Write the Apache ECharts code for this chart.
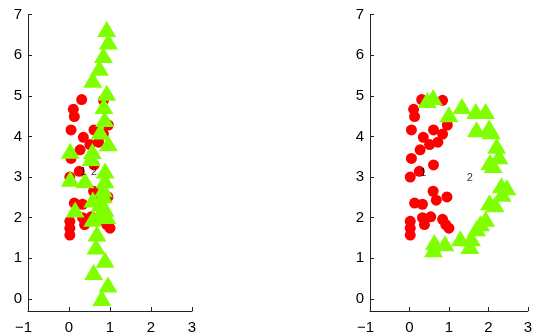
<!DOCTYPE html>
<html><head><meta charset="utf-8">
<script src="https://cdn.jsdelivr.net/npm/echarts@6/dist/echarts.min.js"></script>
<style>html,body{margin:0;padding:0;background:#fff}#c{width:535px;height:335px}</style>
</head><body><div id="c"></div>
<script>
// Red circles (same in both panels)
const redX = [0.31,0.84,0.105,0.13,0.05,0.35,0.61,0.84,0.96,0.72,0.51,0.27,0.05,0.61,0.25,0.02,0.6,0.68,0.95,0.13,0.33,0.02,0.02,0.02,0.33,0.38,0.54,0.84,0.92,1.0];
const redY = [4.91,4.89,4.67,4.49,4.16,3.98,4.16,4.06,4.28,3.86,3.8,3.67,3.46,3.3,3.14,3.0,2.65,2.43,2.51,2.36,2.33,1.91,1.74,1.57,2.0,1.83,2.02,1.96,1.83,1.74];
// Green triangles, left panel
const leftGreenX = [0.92,0.96,0.84,0.74,0.58,0.92,0.85,0.87,0.76,0.96,0.03,0.57,0.54,0.88,0.03,0.39,0.88,0.84,0.84,0.58,0.15,0.76,0.88,0.76,0.92,0.58,0.68,0.66,0.88,0.6,0.95,0.8];
const leftGreenY = [6.65,6.34,6.01,5.69,5.4,5.08,4.75,4.43,4.12,3.83,3.65,3.64,3.47,3.16,2.96,2.92,2.92,2.7,2.55,2.45,2.2,2.35,2.22,2.1,2.04,1.97,1.61,1.29,0.96,0.66,0.35,0.02];
// Green triangles, right panel
const rightGreenX = [0.6,0.45,1.0,1.33,1.68,1.93,1.7,2.02,2.07,2.21,2.27,2.04,2.12,2.33,2.47,2.35,2.03,2.17,1.93,1.8,1.7,1.57,1.53,1.29,0.9,0.63,0.61];
const rightGreenY = [4.97,4.9,4.55,4.75,4.63,4.63,4.18,4.22,4.13,3.77,3.51,3.37,3.3,2.8,2.75,2.59,2.38,2.33,1.97,1.86,1.74,1.49,1.3,1.49,1.37,1.4,1.22];
// Cluster labels
const leftLabels = [[0.35,3.12,'1'],[0.61,3.12,'2']];
const rightLabels = [[0.35,3.1,'1'],[1.53,2.98,'2']];
const xTicks = [-1,0,1,2,3];
const yTicks = [0,1,2,3,4,5,6,7];

const zip = (a,b) => a.map((v,i)=>[v,b[i]]);
const FONT = 'Liberation Sans, Arial, sans-serif';
const RED = '#ff0000', GREEN = '#80ff00';

function xAxis(gi){
  return {gridIndex:gi, type:'value', min:-1, max:3, interval:1,
    axisLine:{show:true, onZero:false, lineStyle:{color:'#222', width:1}},
    axisTick:{show:true, inside:true, length:4, lineStyle:{color:'#222'}},
    axisLabel:{show:true, margin:9, color:'#000', fontSize:15, fontFamily:FONT,
      formatter:v=> v<0 ? '{n|\u2212' + Math.abs(v) + '}' : String(v),
      rich:{n:{padding:[0,9,0,0], color:'#000', fontSize:15, fontFamily:FONT}}},
    splitLine:{show:false}};
}
function yAxis(gi){
  return {gridIndex:gi, type:'value', min:-0.3, max:7,
    axisLine:{show:true, onZero:false, lineStyle:{color:'#222', width:1}},
    axisTick:{show:true, inside:true, length:4, customValues:yTicks, lineStyle:{color:'#222'}},
    axisLabel:{show:true, margin:6, color:'#000', fontSize:15, fontFamily:FONT, customValues:yTicks},
    splitLine:{show:false}};
}
function labelSeries(xi, data){
  return {type:'scatter', xAxisIndex:xi, yAxisIndex:xi, data:data, symbolSize:0, z:10,
    label:{show:true, position:'inside', formatter:p=>p.data[2], color:'#000', fontSize:11, fontFamily:FONT},
    silent:true};
}
const chart = echarts.init(document.getElementById('c'), null, {renderer:'canvas'});
chart.setOption({
  animation:false,
  backgroundColor:'#fff',
  grid:[
    {left:28, right:343, top:14.7, bottom:21.7},
    {left:370, right:2, top:14.7, bottom:21.7}
  ],
  xAxis:[xAxis(0), xAxis(1)],
  yAxis:[yAxis(0), yAxis(1)],
  series:[
    {type:'scatter', xAxisIndex:0, yAxisIndex:0, data:zip(redX,redY), symbol:'circle', symbolSize:11, itemStyle:{color:RED, opacity:1}},
    {type:'scatter', xAxisIndex:0, yAxisIndex:0, data:zip(leftGreenX,leftGreenY), symbol:'triangle', symbolSize:[19,16], itemStyle:{color:GREEN, opacity:1}},
    labelSeries(0, leftLabels),
    {type:'scatter', xAxisIndex:1, yAxisIndex:1, data:zip(redX,redY), symbol:'circle', symbolSize:11, itemStyle:{color:RED, opacity:1}},
    {type:'scatter', xAxisIndex:1, yAxisIndex:1, data:zip(rightGreenX,rightGreenY), symbol:'triangle', symbolSize:[19,16], itemStyle:{color:GREEN, opacity:1}},
    labelSeries(1, rightLabels)
  ]
});
</script></body></html>
